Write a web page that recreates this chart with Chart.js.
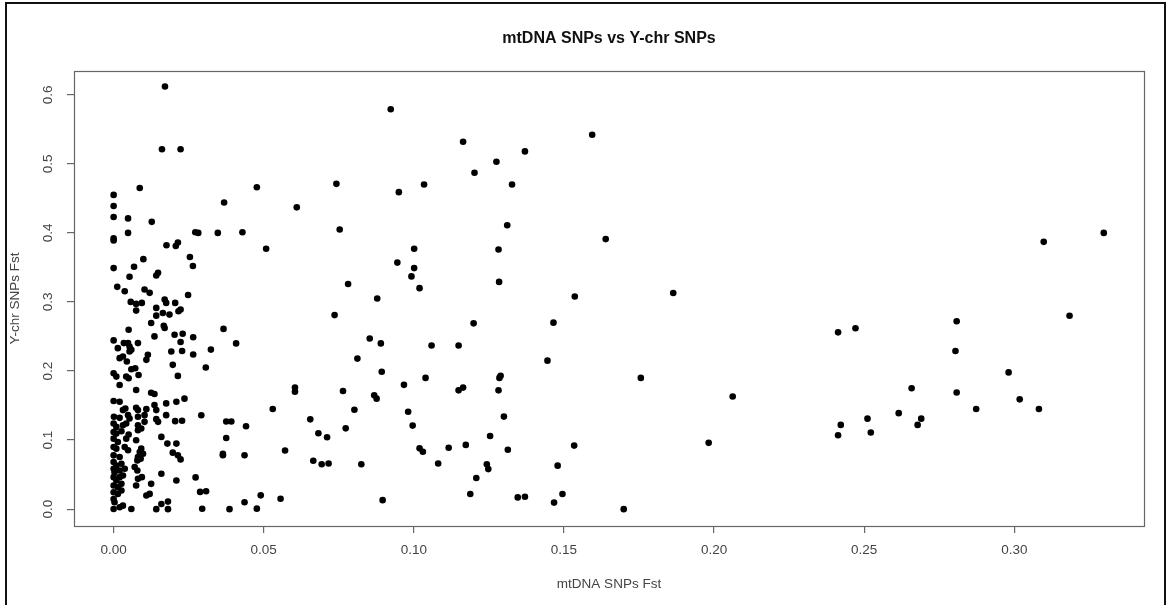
<!DOCTYPE html>
<html>
<head>
<meta charset="utf-8">
<title>mtDNA SNPs vs Y-chr SNPs</title>
<script src="https://cdn.jsdelivr.net/npm/chart.js@4.4.1/dist/chart.umd.min.js"></script>
<style>
    html, body { margin: 0; padding: 0; background: #fff; }
    #wrap { position: relative; width: 1169px; height: 605px; }
</style>
</head>
<body>
<div id="wrap"><canvas id="fstChart" width="1169" height="605"></canvas></div>
<script>
// Pairwise Fst: mtDNA SNPs (x) against Y-chromosome SNPs (y), one entry per population pair
const mtFst = [
    0.0171, 0.0161, 0.0223, 0.0923, 0.1164, 0.1275, 0.1202, 0.137, 0.1594, 0.1034,
    0.1327, 0.095, 0.0742, 0.0477, 0.0087, 0, 0, 0, 0.0048, 0.0127,
    0.0368, 0.061, 0.0753, 0.1311, 0, 0, 0.0048, 0.0272, 0.0282, 0.0347,
    0.0429, 0.0508, 0.0176, 0.0207, 0.0214, 0.1001, 0.1282, 0.1639, 0.3098, 0.3298,
    0.0099, 0.0254, 0.0264, 0, 0.0068, 0.0945, 0.1001, 0.0992, 0.1019, 0.0781,
    0.1284,
    0.0248, 0.0878, 0.1536, 0.1864, 0.0736, 0.1199, 0.1465, 0.3184, 0.2808, 0.2413,
    0.2471, 0.0366, 0.023, 0.0265, 0.0223, 0.0228, 0.0265, 0.0324, 0.0408, 0.0307,
    0.0853, 0.089, 0.0812, 0.0893, 0.1059, 0.1149, 0.1445, 0.0967, 0.1039, 0.1285,
    0.1289, 0.1756, 0.2804, 0.2981, 0.1282, 0.1149, 0.1164, 0.0764, 0.0604, 0.0604,
    0.2062, 0.2658, 0.2808, 0.3018, 0.2873, 0.3082, 0.2615, 0.2511, 0.269, 0.2678,
    0.2422, 0.2522, 0.2413, 0.1982, 0.053, 0.0802, 0.0655, 0.0981, 0.0996, 0.0773,
    0.13, 0.1254, 0.0682, 0.0711, 0.0375, 0.0392, 0.0375, 0.0441, 0.0292, 0.0228,
    0.0236, 0.0223, 0.0364, 0.0364, 0.0436, 0.0571, 0.0665, 0.0693, 0.0716, 0.0825,
    0.1019, 0.103, 0.1116, 0.1173, 0.1081, 0.1313, 0.1534, 0.1479, 0.1243, 0.1248,
    0.1208, 0.1188, 0.1346, 0.137, 0.1495, 0.1467, 0.1699, 0.0896, 0.0556, 0.049,
    0.0436, 0.0477, 0.0386, 0.0295, 0.0288, 0.0308, 0.0273, 0.0868, 0.0876, 0.0223,
    0.0053, 0.0148, 0.0142, 0.0012, 0.0037, 0.0103, 0.012, 0.0057, 0.0075, 0.0094,
    0.0075, 0.0142, 0.017, 0.0175, 0.0205, 0.0142, 0.0164, 0.0186, 0.0216, 0.0125,
    0.0167, 0.017, 0.005, 0.0136, 0.0203, 0, 0.0034, 0.0048, 0.0053, 0.0059,
    0.0081, 0.0014, 0.0031, 0.002, 0.0053, 0.0114, 0.0109, 0.0192, 0.0044, 0.0059,
    0.0072, 0.0083, 0.005, 0.0042, 0, 0.0009, 0.002, 0.0075, 0.0125, 0.0136,
    0.0197, 0.0214,
    0, 0.002, 0.0039, 0.0031, 0.0075, 0.0081, 0.0109, 0.0136, 0.0142, 0.0175,
    0.0209, 0.0001, 0.002, 0.0048, 0.0053, 0.0081, 0.0103, 0.0142, 0.0175, 0.0205,
    0, 0.0009, 0.0031, 0.0042, 0.0081, 0.0092, 0.0148, 0.0103, 0, 0.0009,
    0.0026, 0.005, 0.0081, 0, 0.0014, 0.0042, 0.0075, 0.0159, 0.0179, 0,
    0.0009, 0.0037, 0.0048, 0.0092, 0.0087, 0.0209, 0, 0.002, 0.0081, 0.0098,
    0.0197, 0.0214, 0, 0.0009, 0.0026, 0.0079, 0.009, 0, 0.0003, 0.002,
    0.0037, 0.007, 0.0079, 0.0159, 0, 0.0009, 0.002, 0.0031, 0.0081, 0.0094,
    0.0209, 0, 0.0014, 0.0026, 0.0075, 0.0125, 0, 0.0014, 0.0026, 0.0109,
    0.012, 0, 0.0003, 0.0031, 0.0159, 0.0181, 0, 0.002, 0.0059, 0.0142,
    0.0181
];

const yFst = [
    0.612, 0.521, 0.521, 0.579, 0.532, 0.503, 0.487, 0.518, 0.542, 0.470,
    0.470, 0.459, 0.471, 0.466, 0.465, 0.455, 0.439, 0.423, 0.421, 0.416,
    0.444, 0.437, 0.405, 0.411, 0.392, 0.389, 0.400, 0.401, 0.400, 0.400,
    0.401, 0.377, 0.382, 0.381, 0.386, 0.377, 0.376, 0.391, 0.387, 0.400,
    0.362, 0.365, 0.352, 0.349, 0.351, 0.357, 0.349, 0.337, 0.320, 0.326,
    0.329,
    0.310, 0.305, 0.308, 0.313, 0.281, 0.269, 0.270, 0.280, 0.272, 0.256,
    0.262, 0.261, 0.254, 0.249, 0.242, 0.229, 0.224, 0.231, 0.240, 0.205,
    0.247, 0.240, 0.218, 0.199, 0.237, 0.237, 0.215, 0.180, 0.190, 0.190,
    0.193, 0.190, 0.229, 0.198, 0.172, 0.172, 0.176, 0.171, 0.176, 0.170,
    0.163, 0.175, 0.169, 0.159, 0.145, 0.145, 0.139, 0.131, 0.131, 0.122,
    0.122, 0.111, 0.107, 0.096, 0.145, 0.144, 0.130, 0.141, 0.121, 0.117,
    0.134, 0.106, 0.110, 0.104, 0.127, 0.127, 0.103, 0.120, 0.136, 0.128,
    0.160, 0.072, 0.080, 0.078, 0.078, 0.085, 0.070, 0.065, 0.066, 0.065,
    0.088, 0.083, 0.089, 0.093, 0.066, 0.086, 0.092, 0.063, 0.065, 0.058,
    0.045, 0.022, 0.017, 0.018, 0.022, 0.0095, 0, 0.013, 0.015, 0.020,
    0.010, 0.0007, 0, 0.0005, 0.025, 0.026, 0.046, 0.165, 0.160, 0.289,
    0.3365, 0.3423, 0.3384, 0.3219, 0.3156, 0.318, 0.3132, 0.3001, 0.2972, 0.2986,
    0.2875, 0.2914, 0.3035, 0.2986, 0.2986, 0.2802, 0.2841, 0.2817, 0.2865, 0.2695,
    0.2656, 0.2623, 0.2598, 0.2501, 0.2525, 0.2443, 0.2404, 0.2404, 0.2356, 0.2307,
    0.2404, 0.2331, 0.221, 0.2186, 0.2283, 0.2234, 0.2162, 0.2283, 0.2137, 0.2026,
    0.204, 0.1943, 0.1895, 0.1919, 0.1968, 0.1919, 0.1798, 0.1725, 0.1686, 0.1667,
    0.2089, 0.1929,
    0.1565, 0.1555, 0.1458, 0.1434, 0.1468, 0.1434, 0.1448, 0.1507, 0.1434, 0.1531,
    0.1555, 0.1337, 0.1322, 0.1361, 0.1313, 0.1337, 0.1361, 0.1303, 0.1361, 0.1274,
    0.124, 0.1191, 0.1215, 0.124, 0.1215, 0.1167, 0.1264, 0.1264, 0.1118, 0.1094,
    0.1128, 0.108, 0.1143, 0.1021, 0.0973, 0.1021, 0.0997, 0.1046, 0.0949, 0.09,
    0.0876, 0.09, 0.0852, 0.0876, 0.0827, 0.0949, 0.0779, 0.0754, 0.0754, 0.0803,
    0.0818, 0.0779, 0.0682, 0.0633, 0.0657, 0.0706, 0.073, 0.0585, 0.0536, 0.056,
    0.0585, 0.0609, 0.056, 0.0512, 0.0463, 0.0415, 0.0463, 0.0488, 0.0439, 0.0463,
    0.0415, 0.0342, 0.0318, 0.0366, 0.0342, 0.0366, 0.0245, 0.0221, 0.0269, 0.0197,
    0.0221, 0.0148, 0.0099, 0.0051, 0.0075, 0.0109, 0.0002, 0.0027, 0.0002, 0,
    0
];

const xTicks = [0, 0.05, 0.10, 0.15, 0.20, 0.25, 0.30];
const yTicks = [0, 0.1, 0.2, 0.3, 0.4, 0.5, 0.6];

const chartTitle = 'mtDNA SNPs vs Y-chr SNPs';
const xLabel = 'mtDNA SNPs Fst';
const yLabel = 'Y-chr SNPs Fst';

const FONT = '"Liberation Sans", Arial, sans-serif';
const inkGrey = '#444';
const axisGrey = '#666';

const points = mtFst.map((x, i) => ({ x: x, y: yFst[i] }));

// plot box, main title and the outer frame of the figure
const boxPlugin = {
    id: 'boxAndTitle',
    afterDraw(chart) {
        const { ctx, chartArea: a } = chart;
        ctx.save();
        ctx.strokeStyle = axisGrey;
        ctx.lineWidth = 1.2;
        ctx.strokeRect(a.left + 0.5, a.top + 0.5, a.right - a.left, a.bottom - a.top);

        ctx.fillStyle = '#111';
        ctx.font = 'bold 16px ' + FONT;
        ctx.textAlign = 'center';
        ctx.textBaseline = 'middle';
        ctx.fillText(chartTitle, (a.left + a.right) / 2, 39);

        ctx.strokeStyle = '#111';
        ctx.lineWidth = 2;
        ctx.beginPath();
        ctx.moveTo(6, 605);
        ctx.lineTo(6, 3);
        ctx.lineTo(1165, 3);
        ctx.lineTo(1165, 605);
        ctx.stroke();
        ctx.restore();
    }
};

new Chart(document.getElementById('fstChart'), {
    type: 'scatter',
    data: {
        datasets: [{
            label: 'Fst',
            data: points,
            backgroundColor: '#000',
            borderWidth: 0,
            pointRadius: 3.3,
            pointHoverRadius: 3.3
        }]
    },
    options: {
        responsive: false,
        animation: false,
        events: [],
        layout: { padding: { top: 71, right: 25, left: 0, bottom: 0 } },
        plugins: {
            legend: { display: false },
            tooltip: { enabled: false }
        },
        scales: {
            x: {
                type: 'linear',
                min: -0.0132,
                max: 0.3432,
                afterBuildTicks: scale => { scale.ticks = xTicks.map(v => ({ value: v })); },
                afterFit: scale => { scale.height = 79; },
                border: { display: false },
                grid: { drawOnChartArea: false, tickLength: 7, color: axisGrey, lineWidth: 1.2 },
                ticks: {
                    callback: v => v.toFixed(2),
                    font: { family: FONT, size: 13.5 },
                    color: inkGrey,
                    padding: 9,
                    maxRotation: 0
                },
                title: {
                    display: true,
                    text: xLabel,
                    font: { family: FONT, size: 13.5 },
                    color: inkGrey,
                    padding: { top: 0, bottom: 13 }
                }
            },
            y: {
                type: 'linear',
                min: -0.0244,
                max: 0.6344,
                afterBuildTicks: scale => { scale.ticks = yTicks.map(v => ({ value: v })); },
                afterFit: scale => { scale.width = 74; },
                border: { display: false },
                grid: { drawOnChartArea: false, tickLength: 7, color: axisGrey, lineWidth: 1.2 },
                ticks: {
                    callback: v => v.toFixed(1),
                    font: { family: FONT, size: 13.5 },
                    color: inkGrey,
                    padding: 9,
                    minRotation: 90,
                    maxRotation: 90,
                    crossAlign: 'center'
                },
                title: {
                    display: true,
                    text: yLabel,
                    font: { family: FONT, size: 13.5 },
                    color: inkGrey,
                    padding: { top: 7, bottom: 0 }
                }
            }
        }
    },
    plugins: [boxPlugin]
});
</script>
</body>
</html>
